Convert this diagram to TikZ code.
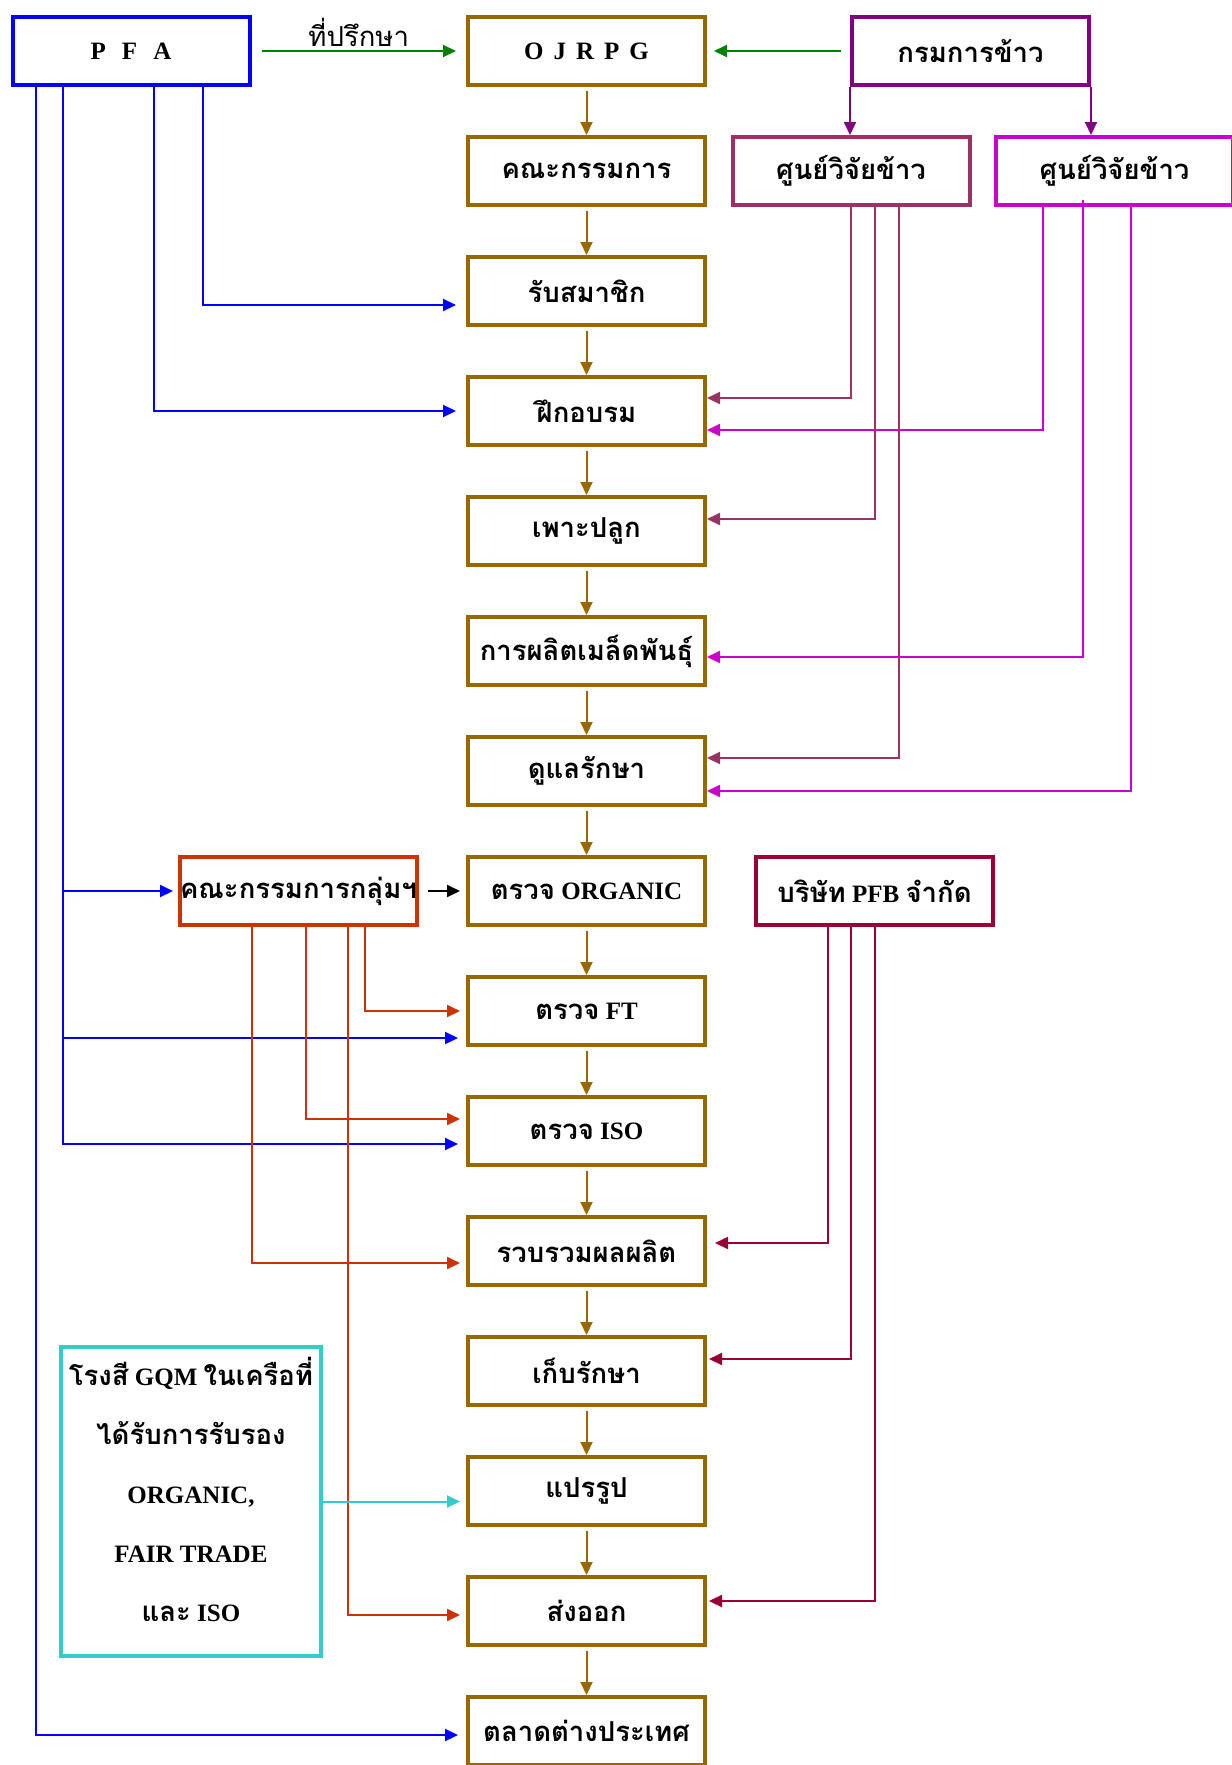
\documentclass[tikz,border=0pt]{standalone}
\usepackage{fontspec}
\setmainfont{Liberation Serif}
\newfontfamily\thaifont[Script=Thai, Scale=1.1]{Loma}
\usetikzlibrary{arrows.meta,positioning}

\definecolor{pfablue}{RGB}{0,0,255}
\definecolor{advgreen}{RGB}{0,128,0}
\definecolor{stagebrown}{RGB}{153,102,0}
\definecolor{krompurple}{RGB}{128,0,128}
\definecolor{sunplum}{RGB}{153,51,102}
\definecolor{sunmagenta}{RGB}{204,0,204}
\definecolor{grouporange}{RGB}{204,51,0}
\definecolor{pfbred}{RGB}{153,0,51}
\definecolor{gqmcyan}{RGB}{51,204,204}

\begin{document}
\begin{tikzpicture}[x=1pt, y=-1pt, node distance=120pt,
	font=\bfseries\fontsize{25}{29}\selectfont,
	box/.style = {draw, line width=4pt, minimum width=237pt, minimum height=68pt, inner sep=0pt},
	stage/.style = {box, draw=stagebrown},
	link/.style = {line width=2pt, -{Triangle[length=13pt,width=12pt]}}]
	\useasboundingbox (0,0) rectangle (1232,1765);
	% centre column
	\node[stage] (ojrpg) at (586.5,51) {O\hspace{10pt}J\hspace{10pt}R\hspace{10pt}P\hspace{10pt}G};
	\node[stage] (kana) [below of=ojrpg] {\thaifont คณะกรรมการ};
	\node[stage] (rub) [below of=kana] {\thaifont รับสมาชิก};
	\node[stage] (fuek) [below of=rub] {\thaifont ฝึกอบรม};
	\node[stage] (pao) [below of=fuek] {\thaifont เพาะปลูก};
	\node[stage] (seed) [below of=pao] {\thaifont การผลิตเมล็ดพันธุ์};
	\node[stage] (doo) [below of=seed] {\thaifont ดูแลรักษา};
	\node[stage] (organic) [below of=doo] {{\thaifont ตรวจ} ORGANIC};
	\node[stage] (ft) [below of=organic] {{\thaifont ตรวจ} FT};
	\node[stage] (iso) [below of=ft] {{\thaifont ตรวจ} ISO};
	\node[stage] (ruam) [below of=iso] {\thaifont รวบรวมผลผลิต};
	\node[stage] (keb) [below of=ruam] {\thaifont เก็บรักษา};
	\node[stage] (prrp) [below of=keb] {\thaifont แปรรูป};
	\node[stage] (export) [below of=prrp] {\thaifont ส่งออก};
	\node[stage] (market) [below of=export] {\thaifont ตลาดต่างประเทศ};
	% side boxes
	\node[box, draw=pfablue] (pfa) at (131,51) {P\hspace{16pt}F\hspace{16pt}A};
	\node[box, draw=krompurple] (krom) at (970.5,51) {\thaifont กรมการข้าว};
	\node[box, draw=sunplum] (sun1) at (851,171) {\thaifont ศูนย์วิจัยข้าว};
	\node[box, draw=sunmagenta] (sun2) at (1114.5,171) {\thaifont ศูนย์วิจัยข้าว};
	\node[box, draw=grouporange] (group) at (298.5,891) {\thaifont คณะกรรมการกลุ่มฯ};
	\node[box, draw=pfbred] (pfb) at (874.5,891) {{\thaifont บริษัท} PFB {\thaifont จำกัด}};
	\node[box, draw=gqmcyan, minimum width=260pt, minimum height=309pt, align=center, text depth=24pt,
		font=\bfseries\fontsize{25}{59}\selectfont] (gqm) at (191,1501.5)
		{{\thaifont โรงสี} GQM {\thaifont ในเครือที่}\\{\thaifont ได้รับการรับรอง}\\ORGANIC,\\FAIR TRADE\\{\thaifont และ} ISO};
	% stage flow
	\foreach \a/\b in {ojrpg/kana, kana/rub, rub/fuek, fuek/pao, pao/seed, seed/doo, doo/organic,
		organic/ft, ft/iso, iso/ruam, ruam/keb, keb/prrp, prrp/export, export/market}
		\draw[link, stagebrown, shorten <=4pt] (\a) -- (\b);
	% top row
	\draw[link, advgreen, shorten <=10pt, shorten >=10pt] (pfa) -- (ojrpg) node[midway, above, black] {\thaifont\mdseries ที่ปรึกษา};
	\draw[link, advgreen, shorten <=9pt, shorten >=7pt] (krom) -- (ojrpg);
	\draw[link, krompurple] (krom.south west) -- (krom.south west |- sun1.north);
	\draw[link, krompurple] (krom.south east) -- (krom.south east |- sun2.north);
	% PFA
	\draw[link, pfablue, shorten >=10pt] ([xshift=72pt]pfa.south) |- ([yshift=-14pt]rub.west);
	\draw[link, pfablue, shorten >=10pt] ([xshift=23pt]pfa.south) |- (fuek.west);
	\draw[link, pfablue, shorten >=5pt] ([xshift=-68pt]pfa.south) |- (group.west);
	\draw[link, pfablue, shorten >=8pt] ([xshift=-68pt]pfa.south) |- ([yshift=-27pt]ft.west);
	\draw[link, pfablue, shorten >=8pt] ([xshift=-68pt]pfa.south) |- ([yshift=-13pt]iso.west);
	\draw[link, pfablue, shorten >=8pt] ([xshift=-95pt]pfa.south) |- ([yshift=-4pt]market.west);
	% research centres
	\draw[link, sunplum] (sun1.south) |- ([yshift=13pt]fuek.east);
	\draw[link, sunplum] ([xshift=24pt]sun1.south) |- ([yshift=12pt]pao.east);
	\draw[link, sunplum] ([xshift=48pt]sun1.south) |- ([yshift=13pt]doo.east);
	\draw[link, sunmagenta] ([xshift=-71.5pt]sun2.south) |- ([yshift=-19pt]fuek.east);
	\draw[link, sunmagenta] ([xshift=-31.5pt,yshift=7pt]sun2.south) |- ([yshift=-6pt]seed.east);
	\draw[link, sunmagenta] ([xshift=16.5pt]sun2.south) |- ([yshift=-20pt]doo.east);
	% group committee
	\draw[link, black, shorten <=9pt, shorten >=6pt] (group) -- (organic);
	\draw[link, grouporange, shorten >=6pt] ([xshift=-46.5pt]group.south) |- ([yshift=-12pt]ruam.west);
	\draw[link, grouporange, shorten >=6pt] ([xshift=7.5pt]group.south) |- ([yshift=12pt]iso.west);
	\draw[link, grouporange, shorten >=6pt] ([xshift=49.5pt]group.south) |- ([yshift=-4pt]export.west);
	\draw[link, grouporange, shorten >=6pt] ([xshift=66.5pt]group.south) |- (ft.west);
	% PFB
	\draw[link, pfbred, shorten >=8pt] ([xshift=-46.5pt]pfb.south) |- ([yshift=8pt]ruam.east);
	\draw[link, pfbred, shorten >=2pt] ([xshift=-23.5pt]pfb.south) |- ([yshift=12pt]keb.east);
	\draw[link, pfbred, shorten >=2pt] (pfb.south) |- ([yshift=10pt]export.east);
	% mill
	\draw[link, gqmcyan, shorten >=6pt] (gqm.east) -- (gqm.east -| prrp.west);
\end{tikzpicture}
\end{document}
